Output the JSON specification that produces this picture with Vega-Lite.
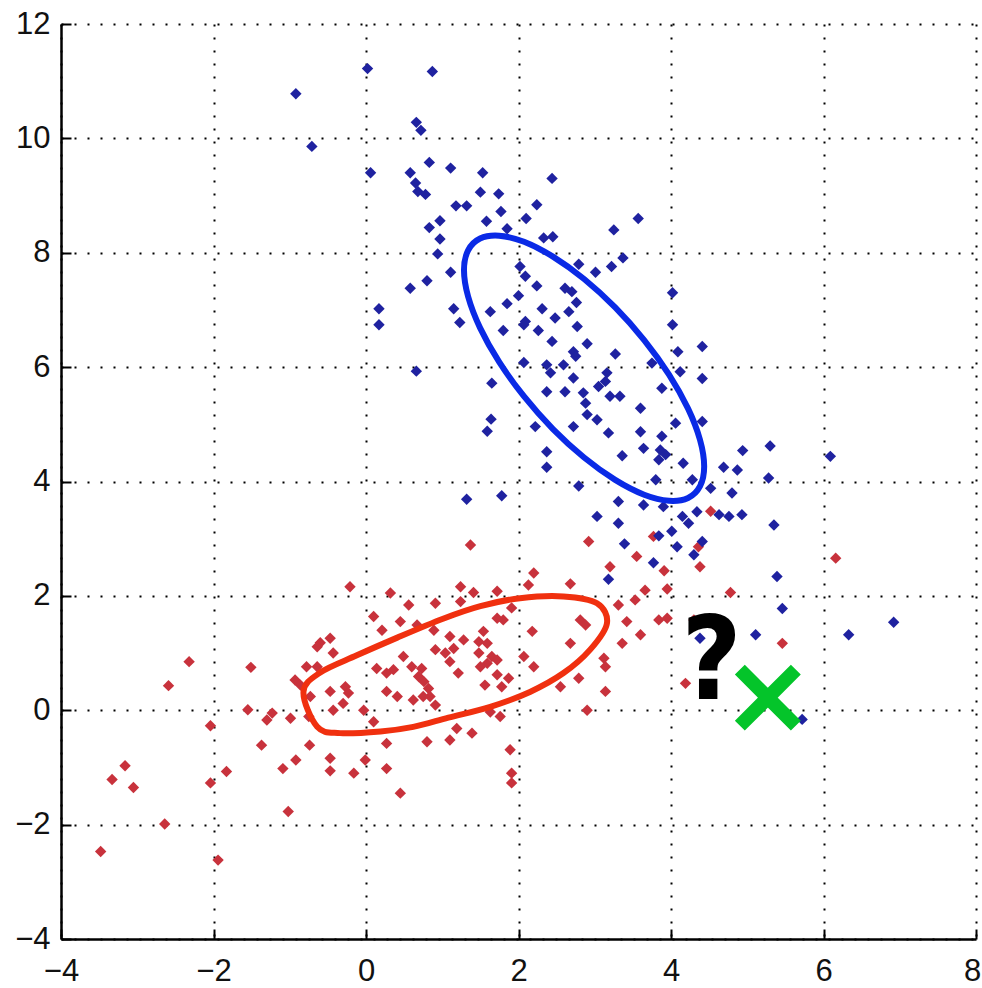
{
  "$schema": "https://vega.github.io/schema/vega-lite/v6.json",
  "width": 915,
  "height": 915,
  "autosize": {"type": "none"},
  "padding": {"left": 61, "top": 24, "right": 6, "bottom": 49},
  "background": "white",
  "config": {"view": {"stroke": null}},
  "datasets": {
    "blue": [
      {"x": -0.92, "y": 10.78}, {"x": -0.71, "y": 9.86},
      {"x": 0.02, "y": 11.22}, {"x": 0.87, "y": 11.17}, {"x": 0.66, "y": 10.28}, {"x": 0.72, "y": 10.14},
      {"x": 0.83, "y": 9.58}, {"x": 1.11, "y": 9.48}, {"x": 1.53, "y": 9.4}, {"x": 2.44, "y": 9.3},
      {"x": 0.06, "y": 9.4}, {"x": 0.58, "y": 9.4}, {"x": 0.65, "y": 9.22}, {"x": 0.68, "y": 9.07},
      {"x": 0.78, "y": 9.02}, {"x": 1.5, "y": 9.06}, {"x": 1.74, "y": 9.03}, {"x": 1.18, "y": 8.82},
      {"x": 1.32, "y": 8.82}, {"x": 1.77, "y": 8.72}, {"x": 2.24, "y": 8.84}, {"x": 2.1, "y": 8.6},
      {"x": 1.58, "y": 8.55}, {"x": 0.97, "y": 8.56}, {"x": 0.83, "y": 8.44}, {"x": 1.85, "y": 8.42},
      {"x": 0.97, "y": 8.24}, {"x": 0.94, "y": 7.98}, {"x": 3.25, "y": 8.4}, {"x": 3.57, "y": 8.6},
      {"x": 2.33, "y": 8.26}, {"x": 2.45, "y": 8.28}, {"x": 1.11, "y": 7.66}, {"x": 0.8, "y": 7.51},
      {"x": 0.58, "y": 7.38}, {"x": 0.17, "y": 7.02}, {"x": 0.17, "y": 6.74}, {"x": 2.79, "y": 7.8},
      {"x": 3.01, "y": 7.66}, {"x": 3.22, "y": 7.76}, {"x": 3.37, "y": 7.91}, {"x": 2.09, "y": 7.59},
      {"x": 2.24, "y": 7.42}, {"x": 2.0, "y": 7.25}, {"x": 1.85, "y": 7.11}, {"x": 1.63, "y": 6.97},
      {"x": 1.15, "y": 7.02}, {"x": 1.23, "y": 6.78}, {"x": 2.61, "y": 7.38}, {"x": 2.76, "y": 7.13},
      {"x": 2.66, "y": 6.97}, {"x": 2.31, "y": 7.02}, {"x": 2.48, "y": 6.86}, {"x": 2.09, "y": 6.8},
      {"x": 2.77, "y": 6.71}, {"x": 4.02, "y": 7.3}, {"x": 4.02, "y": 6.74},
      {"x": 2.02, "y": 7.76}, {"x": 2.7, "y": 7.32}, {"x": 2.07, "y": 6.74}, {"x": 1.8, "y": 6.64},
      {"x": 2.26, "y": 6.64}, {"x": 2.44, "y": 6.45}, {"x": 2.9, "y": 6.41}, {"x": 2.72, "y": 6.27},
      {"x": 2.75, "y": 6.19}, {"x": 3.27, "y": 6.23}, {"x": 4.09, "y": 6.27}, {"x": 4.41, "y": 6.36},
      {"x": 2.07, "y": 6.08}, {"x": 2.37, "y": 6.04}, {"x": 2.42, "y": 5.9}, {"x": 2.59, "y": 6.04},
      {"x": 2.72, "y": 5.81}, {"x": 3.16, "y": 5.9}, {"x": 3.14, "y": 5.75}, {"x": 3.75, "y": 6.07},
      {"x": 4.12, "y": 5.92}, {"x": 4.41, "y": 5.8}, {"x": 1.65, "y": 5.72}, {"x": 2.37, "y": 5.57},
      {"x": 2.61, "y": 5.57}, {"x": 2.85, "y": 5.55}, {"x": 3.05, "y": 5.66}, {"x": 3.33, "y": 5.49},
      {"x": 3.88, "y": 5.63}, {"x": 2.88, "y": 5.37}, {"x": 3.2, "y": 5.49},
      {"x": 3.6, "y": 5.28}, {"x": 2.9, "y": 5.17}, {"x": 3.03, "y": 5.08}, {"x": 2.72, "y": 4.96},
      {"x": 2.22, "y": 4.96}, {"x": 4.06, "y": 5.02}, {"x": 4.41, "y": 5.05}, {"x": 3.18, "y": 4.85},
      {"x": 3.6, "y": 4.87}, {"x": 3.88, "y": 4.79}, {"x": 3.64, "y": 4.58}, {"x": 3.36, "y": 4.45},
      {"x": 3.86, "y": 4.55}, {"x": 3.93, "y": 4.47}, {"x": 3.84, "y": 4.38}, {"x": 4.16, "y": 4.32},
      {"x": 2.37, "y": 4.52}, {"x": 2.37, "y": 4.25}, {"x": 2.79, "y": 3.92}, {"x": 1.78, "y": 3.75},
      {"x": 3.8, "y": 4.03}, {"x": 4.28, "y": 4.03}, {"x": 4.52, "y": 3.88}, {"x": 4.69, "y": 4.25},
      {"x": 4.87, "y": 4.2}, {"x": 4.94, "y": 4.54}, {"x": 5.3, "y": 4.62}, {"x": 5.28, "y": 4.06},
      {"x": 4.8, "y": 3.8}, {"x": 3.31, "y": 3.65}, {"x": 3.64, "y": 3.59}, {"x": 3.9, "y": 3.56},
      {"x": 3.03, "y": 3.39}, {"x": 3.31, "y": 3.27}, {"x": 4.15, "y": 3.39}, {"x": 4.23, "y": 3.27},
      {"x": 4.34, "y": 3.47}, {"x": 4.63, "y": 3.42}, {"x": 4.76, "y": 3.39}, {"x": 4.93, "y": 3.42},
      {"x": 5.35, "y": 3.24}, {"x": 4.01, "y": 3.13}, {"x": 3.84, "y": 3.05}, {"x": 3.39, "y": 2.91},
      {"x": 4.08, "y": 2.86}, {"x": 4.41, "y": 2.95}, {"x": 4.3, "y": 2.72}, {"x": 3.77, "y": 2.58},
      {"x": 5.39, "y": 2.34}, {"x": 0.66, "y": 5.93}, {"x": 1.64, "y": 5.09}, {"x": 1.59, "y": 4.88},
      {"x": 1.32, "y": 3.69}, {"x": 3.18, "y": 2.29}, {"x": 6.09, "y": 4.44}, {"x": 5.46, "y": 1.78},
      {"x": 5.11, "y": 1.32}, {"x": 4.38, "y": 1.26}, {"x": 6.33, "y": 1.32}, {"x": 6.92, "y": 1.54},
      {"x": 5.72, "y": -0.16}
    ],
    "red": [
      {"x": -2.32, "y": 0.85}, {"x": -2.59, "y": 0.43}, {"x": -1.51, "y": 0.75}, {"x": -1.55, "y": 0.01},
      {"x": -2.04, "y": -0.27}, {"x": -1.37, "y": -0.61}, {"x": -1.3, "y": -0.17}, {"x": -1.23, "y": -0.05},
      {"x": -0.99, "y": -0.14}, {"x": -0.92, "y": -0.87}, {"x": -1.09, "y": -1.02}, {"x": -1.02, "y": -1.77},
      {"x": -1.83, "y": -1.07}, {"x": -2.04, "y": -1.27}, {"x": -1.94, "y": -2.62}, {"x": -2.64, "y": -1.99},
      {"x": -3.48, "y": -2.47}, {"x": -3.33, "y": -1.21}, {"x": -3.16, "y": -0.97}, {"x": -3.05, "y": -1.35},
      {"x": -0.74, "y": -0.61}, {"x": -0.78, "y": 0.76}, {"x": -0.64, "y": 0.76}, {"x": -0.93, "y": 0.53},
      {"x": -0.86, "y": 0.44}, {"x": -0.73, "y": 0.24}, {"x": -0.75, "y": -0.11}, {"x": -0.47, "y": -0.84},
      {"x": -0.47, "y": -1.06}, {"x": -0.6, "y": 1.18},
      {"x": -0.21, "y": 2.16}, {"x": 0.32, "y": 2.05}, {"x": 0.56, "y": 1.84}, {"x": 0.91, "y": 1.87},
      {"x": 1.24, "y": 2.16}, {"x": 1.41, "y": 2.06}, {"x": 1.24, "y": 1.9}, {"x": 1.72, "y": 2.08},
      {"x": 2.13, "y": 2.19}, {"x": 2.2, "y": 2.4}, {"x": 2.68, "y": 2.21}, {"x": 3.2, "y": 2.51},
      {"x": 3.31, "y": 1.84}, {"x": 3.53, "y": 1.93}, {"x": 3.66, "y": 2.1}, {"x": 3.42, "y": 1.55},
      {"x": 3.6, "y": 1.32}, {"x": 3.36, "y": 1.17}, {"x": 3.12, "y": 0.91}, {"x": 3.14, "y": 0.76},
      {"x": 3.14, "y": 0.33}, {"x": 2.9, "y": 0.0}, {"x": 2.79, "y": 0.56}, {"x": 2.55, "y": 0.41},
      {"x": 2.68, "y": 1.17}, {"x": 2.81, "y": 1.58}, {"x": 2.88, "y": 1.49}, {"x": 2.18, "y": 1.38},
      {"x": 2.07, "y": 0.94}, {"x": 2.2, "y": 0.76}, {"x": 1.8, "y": 1.58}, {"x": 1.72, "y": 1.61},
      {"x": 1.91, "y": 1.79}, {"x": 1.54, "y": 1.38}, {"x": 1.48, "y": 1.2}, {"x": 1.59, "y": 1.17},
      {"x": 1.65, "y": 0.94}, {"x": 1.72, "y": 0.88}, {"x": 1.59, "y": 0.82}, {"x": 1.5, "y": 0.76},
      {"x": 1.72, "y": 0.62}, {"x": 1.87, "y": 0.56}, {"x": 1.56, "y": 0.44}, {"x": 1.78, "y": 0.41},
      {"x": 1.1, "y": 1.29}, {"x": 1.15, "y": 1.08}, {"x": 1.04, "y": 1.0}, {"x": 1.1, "y": 0.85},
      {"x": 0.91, "y": 1.06}, {"x": 0.89, "y": 1.4}, {"x": 1.21, "y": 0.65}, {"x": 0.67, "y": 1.49},
      {"x": 0.45, "y": 1.55}, {"x": 0.21, "y": 1.4}, {"x": 0.1, "y": 1.64}, {"x": 0.49, "y": 0.94},
      {"x": 0.6, "y": 0.76}, {"x": 0.73, "y": 0.73}, {"x": 0.36, "y": 0.71}, {"x": 0.27, "y": 0.65},
      {"x": 0.14, "y": 0.73}, {"x": 0.76, "y": 0.5}, {"x": 0.82, "y": 0.38}, {"x": 0.27, "y": 0.33},
      {"x": 0.41, "y": 0.24}, {"x": 0.62, "y": 0.18}, {"x": 0.84, "y": 0.24}, {"x": 0.91, "y": 0.09},
      {"x": -0.03, "y": 0.0}, {"x": 0.1, "y": -0.2}, {"x": 0.27, "y": -0.58}, {"x": 0.8, "y": -0.55},
      {"x": 1.1, "y": -0.52}, {"x": 1.19, "y": -0.32}, {"x": 1.39, "y": -0.4}, {"x": 1.63, "y": -0.03},
      {"x": 1.76, "y": -0.11}, {"x": 1.89, "y": -0.69}, {"x": 1.91, "y": -1.1}, {"x": -0.27, "y": 0.41},
      {"x": -0.23, "y": 0.3}, {"x": -0.3, "y": 0.12}, {"x": -0.43, "y": 0.0}, {"x": -0.47, "y": 0.33},
      {"x": -0.64, "y": 1.11}, {"x": -0.47, "y": 1.26}, {"x": -0.43, "y": 1.0}, {"x": -0.16, "y": -1.1},
      {"x": -0.01, "y": -0.87}, {"x": 0.27, "y": -1.02}, {"x": 1.28, "y": 1.23}, {"x": 1.48, "y": 1.0},
      {"x": 0.69, "y": 0.59}, {"x": 0.75, "y": 0.24},
      {"x": 0.45, "y": -1.45}, {"x": 1.91, "y": -1.27},
      {"x": 1.37, "y": 2.89}, {"x": 2.92, "y": 2.95}, {"x": 3.55, "y": 2.69}, {"x": 3.84, "y": 1.58},
      {"x": 4.52, "y": 3.48}, {"x": 4.36, "y": 2.86}, {"x": 4.38, "y": 2.51}, {"x": 3.91, "y": 2.44},
      {"x": 3.95, "y": 2.12}, {"x": 4.78, "y": 2.06}, {"x": 3.95, "y": 1.61}, {"x": 4.3, "y": 1.58},
      {"x": 5.46, "y": 1.17}, {"x": 6.16, "y": 2.66}, {"x": 3.77, "y": 3.04}, {"x": 4.19, "y": 0.47}
    ],
    "blueEllipse": [
      {"i": 0, "x": 4.435, "y": 4.263}, {"i": 1, "x": 4.381, "y": 4.726}, {"i": 2, "x": 4.224, "y": 5.274},
      {"i": 3, "x": 3.974, "y": 5.87}, {"i": 4, "x": 3.648, "y": 6.473}, {"i": 5, "x": 3.268, "y": 7.044},
      {"i": 6, "x": 2.86, "y": 7.541}, {"i": 7, "x": 2.452, "y": 7.932}, {"i": 8, "x": 2.073, "y": 8.191},
      {"i": 9, "x": 1.746, "y": 8.298}, {"i": 10, "x": 1.496, "y": 8.248}, {"i": 11, "x": 1.339, "y": 8.042},
      {"i": 12, "x": 1.285, "y": 7.697}, {"i": 13, "x": 1.339, "y": 7.234}, {"i": 14, "x": 1.496, "y": 6.686},
      {"i": 15, "x": 1.746, "y": 6.09}, {"i": 16, "x": 2.073, "y": 5.487}, {"i": 17, "x": 2.452, "y": 4.916},
      {"i": 18, "x": 2.86, "y": 4.419}, {"i": 19, "x": 3.268, "y": 4.028}, {"i": 20, "x": 3.648, "y": 3.769},
      {"i": 21, "x": 3.974, "y": 3.662}, {"i": 22, "x": 4.224, "y": 3.712}, {"i": 23, "x": 4.381, "y": 3.918}
    ],
    "redEllipse": [
      {"i": 0, "x": -0.82, "y": 0.32}, {"i": 1, "x": -0.64, "y": -0.29}, {"i": 2, "x": -0.34, "y": -0.4},
      {"i": 3, "x": 0.19, "y": -0.37}, {"i": 4, "x": 0.62, "y": -0.29}, {"i": 5, "x": 1.08, "y": -0.13},
      {"i": 6, "x": 1.63, "y": 0.06}, {"i": 7, "x": 2.15, "y": 0.32}, {"i": 8, "x": 2.59, "y": 0.65},
      {"i": 9, "x": 2.94, "y": 1.06}, {"i": 10, "x": 3.16, "y": 1.52}, {"i": 11, "x": 3.03, "y": 1.87},
      {"i": 12, "x": 2.59, "y": 1.99}, {"i": 13, "x": 2.02, "y": 1.96}, {"i": 14, "x": 1.5, "y": 1.82},
      {"i": 15, "x": 1.01, "y": 1.6}, {"i": 16, "x": 0.41, "y": 1.27}, {"i": 17, "x": -0.12, "y": 0.96},
      {"i": 18, "x": -0.6, "y": 0.66}
    ],
    "query": [{"x": 5.27, "y": 0.22}],
    "question": [{"x": 4.53, "y": 0.19, "label": "?"}]
  },
  "encoding": {
    "x": {
      "field": "x", "type": "quantitative",
      "scale": {"domain": [-4, 8], "nice": false, "zero": false},
      "axis": {
        "title": null, "values": [-4, -2, 0, 2, 4, 6, 8],
        "grid": true, "gridColor": "#000000", "gridDash": [2, 11], "gridWidth": 2, "gridOpacity": 1,
        "domainColor": "#000000", "domainWidth": 2.5,
        "ticks": true, "tickColor": "#000000", "tickSize": -10, "tickWidth": 2,
        "labelFont": "Liberation Sans", "labelFontSize": 31, "labelColor": "#111111",
        "labelPadding": 27, "labelFlush": false, "labelOverlap": false,
        "labelOffset": {"condition": {"test": "datum.value == 8", "value": -4}, "value": 0}
      }
    },
    "y": {
      "field": "y", "type": "quantitative",
      "scale": {"domain": [-4, 12], "nice": false, "zero": false},
      "axis": {
        "title": null, "values": [-4, -2, 0, 2, 4, 6, 8, 10, 12],
        "grid": true, "gridColor": "#000000", "gridDash": [2, 11], "gridWidth": 2, "gridOpacity": 1,
        "domainColor": "#000000", "domainWidth": 2.5,
        "ticks": true, "tickColor": "#000000", "tickSize": -10, "tickWidth": 2,
        "labelFont": "Liberation Sans", "labelFontSize": 31, "labelColor": "#111111",
        "labelPadding": 21, "labelFlush": false, "labelOverlap": false
      }
    }
  },
  "layer": [
    {
      "data": {"name": "red"},
      "mark": {"type": "point", "shape": "diamond", "filled": true, "size": 130, "color": "#c8323c", "opacity": 1}
    },
    {
      "data": {"name": "blue"},
      "mark": {"type": "point", "shape": "diamond", "filled": true, "size": 130, "color": "#1f22a0", "opacity": 1}
    },
    {
      "data": {"name": "redEllipse"},
      "mark": {"type": "line", "interpolate": "cardinal-closed", "color": "#f0300f", "strokeWidth": 6},
      "encoding": {"order": {"field": "i", "type": "quantitative"}}
    },
    {
      "data": {"name": "blueEllipse"},
      "mark": {"type": "line", "interpolate": "cardinal-closed", "color": "#0a2ae6", "strokeWidth": 6},
      "encoding": {"order": {"field": "i", "type": "quantitative"}}
    },
    {
      "data": {"name": "query"},
      "mark": {"type": "point", "shape": "M-1,-1L1,1M-1,1L1,-1", "filled": false, "size": 3136, "stroke": "#04c42a", "strokeWidth": 14, "strokeCap": "butt", "opacity": 1}
    },
    {
      "data": {"name": "question"},
      "mark": {"type": "text", "font": "Liberation Sans Narrow, DejaVu Sans Condensed, Liberation Sans", "fontWeight": "bold", "fontSize": 116, "align": "center", "baseline": "alphabetic", "color": "#000000"},
      "encoding": {"text": {"field": "label"}}
    }
  ]
}
